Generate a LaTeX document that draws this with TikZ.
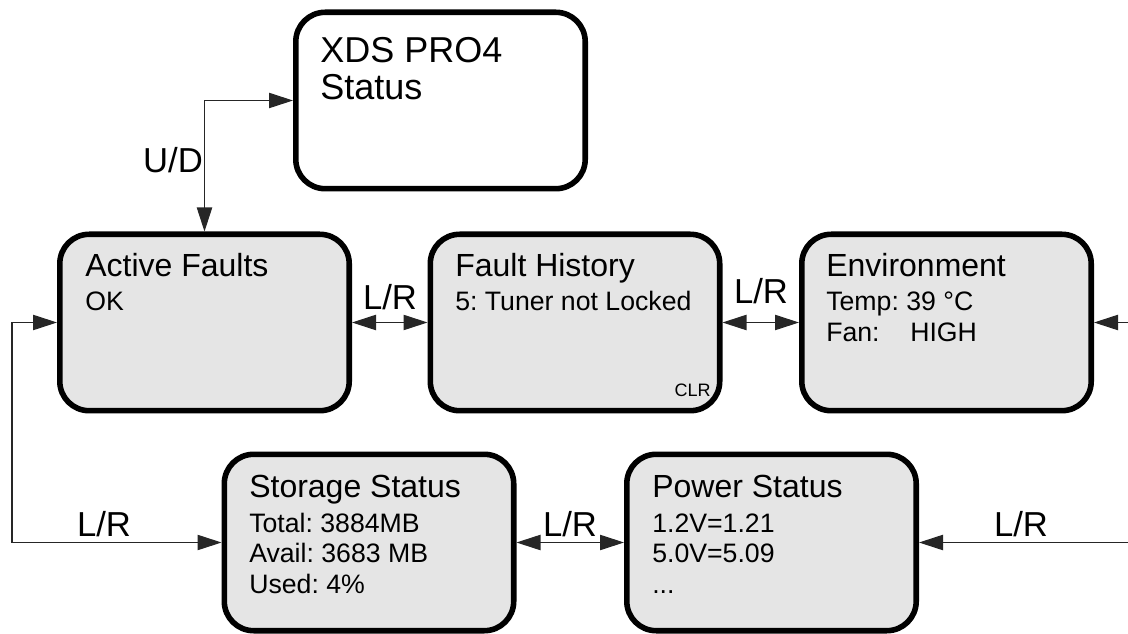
\documentclass[tikz,border=0pt]{standalone}
\usepackage{fontspec}
\setmainfont{Liberation Sans}
\usetikzlibrary{arrows.meta}
\definecolor{boxgray}{HTML}{E5E5E5}
\newcommand{\pxu}{0.75pt}
\frenchspacing
\tikzset{
  screen/.style={draw=black, line width=4.2pt, rounded corners=22pt, fill=boxgray,
    minimum width=295*\pxu-4.2pt, minimum height=182*\pxu-4.2pt, inner sep=0pt},
  topscreen/.style={screen, fill=white},
  conn/.style={draw=black!85, line width=0.8pt},
  tip/.style={-{Triangle[length=18pt,width=11.5pt]}},
  biarrow/.style={{Triangle[length=18pt,width=11.5pt]}-{Triangle[length=18pt,width=11.5pt]}},
  ttl/.style={anchor=base west, inner sep=0pt, font=\fontsize{24}{28}\selectfont\frenchspacing},
  sub/.style={anchor=base west, inner sep=0pt, font=\fontsize{20}{24}\selectfont\frenchspacing},
  big/.style={anchor=base west, inner sep=0pt, font=\fontsize{27}{32}\selectfont},
  lbl/.style={anchor=base, inner sep=0pt, font=\fontsize{26}{30}\selectfont},
  small/.style={anchor=base east, inner sep=0pt, font=\fontsize{13.5}{16}\selectfont}
}
\begin{document}
\begin{tikzpicture}[x=0.75pt, y=-0.75pt]
\useasboundingbox (0,0) rectangle (1128,634);

% boxes
\node[topscreen] (xds) at (440.5,100.5) {};
\node[screen] (af) at (204.5,322.5) {};
\node[screen] (fh) at (575,322.5) {};
\node[screen] (env) at (946.5,322.5) {};
\node[screen] (st) at (369,542.5) {};
\node[screen] (pw) at (771.5,542.5) {};

% texts
\node[big] (xds1) at (320,63) {XDS PRO4};
\node[big] (xds2) at (320,100) {Status};

\node[ttl] (af1) at (85,277) {Active Faults};
\node[sub] (af2) at (85,311) {OK};

\node[ttl] (fh1) at (455,277) {Fault History};
\node[sub] (fh2) at (455,311) {5: Tuner not Locked};
\node[small] (clr) at (711,397) {CLR};

\node[ttl] (env1) at (826,277) {Environment};
\node[sub] (env2) at (826,311) {Temp: 39 °C};
\node[sub] (env3) at (826,342) {\makebox[63pt][l]{Fan:}HIGH};

\node[ttl] (st1) at (249,497) {Storage Status};
\node[sub] (st2) at (249,532) {Total: 3884MB};
\node[sub] (st3) at (249,562) {Avail: 3683 MB};
\node[sub] (st4) at (249,593) {Used: 4\%};

\node[ttl] (pw1) at (652,497) {Power Status};
\node[sub] (pw2) at (652,532) {1.2V=1.21};
\node[sub] (pw3) at (652,562) {5.0V=5.09};
\node[sub] (pw4) at (652,593) {...};

% free-end coordinates
\coordinate (r1) at (1128,322.5);
\coordinate (r2) at (1128,542.5);
\coordinate (lc) at (12,322.5);

% connectors
\draw[conn,biarrow] (af.north) |- (xds.west);
\draw[conn,biarrow] (af.east) -- (fh.west);
\draw[conn,biarrow] (fh.east) -- (env.west);
\draw[conn,tip] (r1) -- (env.east);
\draw[conn,biarrow] (af.west) -- (lc) |- (st.west);
\draw[conn,biarrow] (st.east) -- (pw.west);
\draw[conn,tip] (r2) -- (pw.east);

% labels
\node[lbl] (ud) at (173,173) {U/D};
\node[lbl] (lr1) at (390,310) {L/R};
\node[lbl] (lr2) at (761,304) {L/R};
\node[lbl] (lr3) at (104,536) {L/R};
\node[lbl] (lr4) at (570,536) {L/R};
\node[lbl] (lr5) at (1021,536) {L/R};
\end{tikzpicture}
\end{document}
